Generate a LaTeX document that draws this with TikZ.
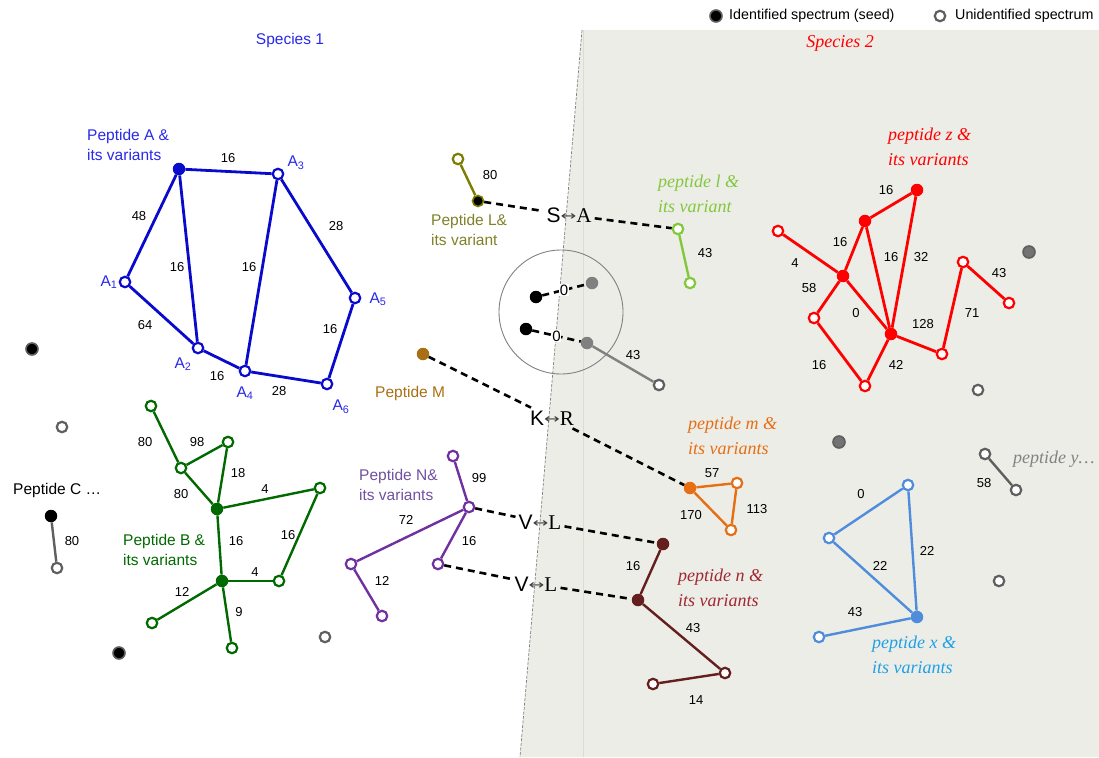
\documentclass[tikz,border=0pt]{standalone}
\usepackage{fontspec}
\setmainfont{Liberation Sans}
\newfontfamily\serifit{Liberation Serif}
\newfontfamily\dvsans{DejaVu Sans}
\newcommand{\lrarr}{{\dvsans\fontsize{13}{15}\selectfont\color{darkgray}\raisebox{2pt}{\scalebox{1.45}[1]{↔}}}}
\definecolor{bgc}{RGB}{237,237,232}
\definecolor{vline}{RGB}{220,220,214}
\definecolor{colA}{RGB}{10,10,205}
\definecolor{colAt}{RGB}{40,40,235}
\definecolor{colB}{RGB}{0,105,0}
\definecolor{colL}{RGB}{125,125,0}
\definecolor{colLt}{RGB}{128,128,40}
\definecolor{coll}{RGB}{130,200,60}
\definecolor{colM}{RGB}{170,110,20}
\definecolor{colm}{RGB}{230,110,20}
\definecolor{colN}{RGB}{112,48,160}
\definecolor{colNt}{RGB}{112,80,160}
\definecolor{coln}{RGB}{100,30,30}
\definecolor{colnt}{RGB}{160,40,50}
\definecolor{colz}{RGB}{255,0,0}
\definecolor{colx}{RGB}{80,140,220}
\definecolor{colxt}{RGB}{30,160,230}
\definecolor{colg}{RGB}{95,95,95}
\definecolor{colgf}{RGB}{115,115,115}
\definecolor{coly}{RGB}{130,130,130}
\begin{document}
\begin{tikzpicture}[x=1pt,y=-1pt,
  op/.style={circle,inner sep=0pt,minimum size=10.5pt,line width=2.2pt,fill=white},
  sd/.style={circle,inner sep=0pt,minimum size=12.5pt},
  ed/.style={line width=2.4pt},
  edb/.style={line width=2.8pt},
  lbl/.style={font=\fontsize{13}{15}\selectfont,inner sep=0pt},
  nm/.style={font=\fontsize{15.5}{19.5}\selectfont,align=left,anchor=west,inner sep=0pt},
  itx/.style={font=\fontsize{18}{25}\selectfont\serifit\itshape,align=left,anchor=west,inner sep=0pt},
  sub/.style={font=\fontsize{15.5}{18}\selectfont,text=colAt,inner sep=0pt},
  dsh/.style={line width=2.6pt,dash pattern=on 7pt off 5pt},
  swap/.style={inner sep=3pt,font=\fontsize{21}{23}\selectfont},
  zero/.style={fill=white,inner sep=0.5pt,font=\fontsize{15}{16}\selectfont}
]
\useasboundingbox (0,0) rectangle (1099,757);
% background of species 2
\fill[bgc] (582,30) -- (1099,30) -- (1099,757) -- (520,757) -- cycle;
\draw[vline,line width=0.8pt] (583,30) -- (583,757);
\draw[gray,line width=0.7pt,dash pattern=on 3pt off 1.5pt] (582,30) -- (520,757);

% legend
\node[sd,minimum size=12pt,fill=black,draw=colg,line width=1.6pt] (legs) at (716,16) {};
\node[anchor=west,inner sep=0pt,font=\fontsize{14.3}{16}\selectfont] (legst) at (729,16) {Identified spectrum (seed)};
\node[op,draw=colg] (lego) at (940,16) {};
\node[anchor=west,inner sep=0pt,font=\fontsize{14.3}{16}\selectfont] (legot) at (955,16) {Unidentified spectrum};

% titles
\node[font=\fontsize{15.5}{18}\selectfont,text=colAt] (sp1) at (290,40) {Species 1};
\node[font=\fontsize{18}{20}\selectfont\serifit\itshape,text=colz] (sp2) at (840,43) {Species 2};

% ---------------- Peptide A
\node[sd,fill=colA] (as) at (179,169) {};
\node[op,draw=colA] (a3) at (278,174) {};
\node[op,draw=colA] (a1) at (125,282) {};
\node[op,draw=colA] (a2) at (198,348) {};
\node[op,draw=colA] (a4) at (245,371) {};
\node[op,draw=colA] (a5) at (355,298) {};
\node[op,draw=colA] (a6) at (327,384) {};
\draw[edb,colA] (as) -- (a3); \draw[edb,colA] (as) -- (a1); \draw[edb,colA] (as) -- (a2);
\draw[edb,colA] (a3) -- (a4); \draw[edb,colA] (a3) -- (a5); \draw[edb,colA] (a1) -- (a2);
\draw[edb,colA] (a2) -- (a4); \draw[edb,colA] (a4) -- (a6); \draw[edb,colA] (a5) -- (a6);
\node[lbl] (la1) at (228,158) {16};
\node[lbl] (la2) at (139,216) {48};
\node[lbl] (la3) at (177,267) {16};
\node[lbl] (la4) at (249,267) {16};
\node[lbl] (la5) at (336,226) {28};
\node[lbl] (la6) at (145,325) {64};
\node[lbl] (la7) at (217,376) {16};
\node[lbl] (la8) at (279,391) {28};
\node[lbl] (la9) at (330,329) {16};
\node[sub] (ta1) at (109,282) {A\textsubscript{1}};
\node[sub] (ta2) at (183,364) {A\textsubscript{2}};
\node[sub] (ta3) at (296,163) {A\textsubscript{3}};
\node[sub] (ta4) at (245,393) {A\textsubscript{4}};
\node[sub] (ta5) at (378,299) {A\textsubscript{5}};
\node[sub] (ta6) at (341,407) {A\textsubscript{6}};
\node[nm,text=colAt] (tA) at (87,145) {Peptide A \&\\its variants};

% ---------------- Peptide B
\node[op,draw=colB] (b1) at (151,406) {};
\node[op,draw=colB] (b2) at (181,468) {};
\node[op,draw=colB] (b3) at (228,442) {};
\node[sd,fill=colB] (bs1) at (217,509) {};
\node[op,draw=colB] (b4) at (320,488) {};
\node[sd,fill=colB] (bs2) at (222,581) {};
\node[op,draw=colB] (b5) at (279,581) {};
\node[op,draw=colB] (b6) at (152,623) {};
\node[op,draw=colB] (b7) at (232,648) {};
\draw[ed,colB] (b1) -- (b2); \draw[ed,colB] (b2) -- (b3); \draw[ed,colB] (b2) -- (bs1);
\draw[ed,colB] (b3) -- (bs1); \draw[ed,colB] (bs1) -- (b4); \draw[ed,colB] (bs1) -- (bs2);
\draw[ed,colB] (b4) -- (b5); \draw[ed,colB] (bs2) -- (b5); \draw[ed,colB] (bs2) -- (b6);
\draw[ed,colB] (bs2) -- (b7);
\node[lbl] (lb1) at (145,442) {80};
\node[lbl] (lb2) at (197,442) {98};
\node[lbl] (lb3) at (238,473) {18};
\node[lbl] (lb4) at (181,494) {80};
\node[lbl] (lb5) at (265,489) {4};
\node[lbl] (lb6) at (236,541) {16};
\node[lbl] (lb7) at (288,535) {16};
\node[lbl] (lb8) at (255,572) {4};
\node[lbl] (lb9) at (182,592) {12};
\node[lbl] (lb10) at (239,612) {9};
\node[nm,text=colB] (tB) at (123,550) {Peptide B \&\\its variants};

% ---------------- Peptide C and lone spectra (species 1)
\node[sd,fill=black] (cs) at (51,516) {};
\node[op,draw=colg] (co) at (57,568) {};
\draw[ed,colg] (cs) -- (co);
\node[lbl] (lc) at (72,541) {80};
\node[nm] (tC) at (13,490) {Peptide C \dots};
\node[sd,minimum size=12pt,fill=black,draw=colg,line width=1.6pt] (g1) at (32,349) {};
\node[op,draw=colg] (g2) at (62,427) {};
\node[sd,minimum size=12pt,fill=black,draw=colg,line width=1.6pt] (g3) at (119,653) {};
\node[op,draw=colg] (g4) at (325,637) {};

% ---------------- Peptide L / l
\node[op,draw=colL] (lo) at (458,159) {};
\node[sd,fill=black,draw=colL,line width=1.6pt,minimum size=11pt] (ls) at (478,201) {};
\draw[ed,colL] (lo) -- (ls);
\node[lbl] (ll1) at (490,175) {80};
\node[nm,text=colLt] (tL) at (431,230) {Peptide L\&\\its variant};
\node[swap] (sa) at (569,215) {S\lrarr{\serifit A}};
\node[op,draw=coll] (l1) at (678,229) {};
\node[op,draw=coll] (l2) at (690,283) {};
\draw[ed,coll] (l1) -- (l2);
\node[lbl] (ll2) at (705,253) {43};
\node[itx,text=coll] (tl) at (658,194) {peptide l \&\\its variant};
\draw[dsh] (ls) -- (sa) -- (l1);

% ---------------- circle of identical spectra
\draw[gray,line width=0.9pt] (561,312) circle[radius=62];
\node[sd,fill=black] (k1) at (536,297) {};
\node[sd,fill=gray] (k2) at (592,283) {};
\node[sd,fill=black] (k3) at (526,329) {};
\node[sd,fill=gray] (k4) at (587,343) {};
\node[op,draw=colg] (k5) at (659,385) {};
\draw[dsh] (k1) -- node[zero] (z1l) {0} (k2);
\draw[dsh] (k3) -- node[zero] (z2l) {0} (k4);
\draw[ed,gray] (k4) -- (k5);
\node[lbl] (lk) at (633,355) {43};

% ---------------- Peptide M / m
\node[sd,fill=colM] (ms) at (423,354) {};
\node[font=\fontsize{15.5}{18}\selectfont,text=colM,anchor=west,inner sep=0pt] (tM) at (375,393) {Peptide M};
\node[swap] (kr) at (552,418) {K\lrarr{\serifit R}};
\node[sd,fill=colm] (m0) at (690,488) {};
\node[op,draw=colm] (m1) at (737,483) {};
\node[op,draw=colm] (m2) at (731,530) {};
\draw[ed,colm] (m0) -- (m1); \draw[ed,colm] (m0) -- (m2); \draw[ed,colm] (m1) -- (m2);
\node[lbl] (lm1) at (712,473) {57};
\node[lbl] (lm2) at (691,515) {170};
\node[lbl] (lm3) at (757,509) {113};
\node[itx,text=colm] (tm) at (688,436) {peptide m \&\\its variants};
\draw[dsh] (ms) -- (kr) -- (m0);

% ---------------- Peptide N / n
\node[op,draw=colN] (n1) at (453,456) {};
\node[op,draw=colN] (n2) at (469,507) {};
\node[op,draw=colN] (n3) at (351,564) {};
\node[op,draw=colN] (n4) at (382,616) {};
\node[op,draw=colN] (n5) at (438,564) {};
\draw[ed,colN] (n1) -- (n2); \draw[ed,colN] (n2) -- (n3); \draw[ed,colN] (n2) -- (n5);
\draw[ed,colN] (n3) -- (n4);
\node[lbl] (ln1) at (479,478) {99};
\node[lbl] (ln2) at (406,520) {72};
\node[lbl] (ln3) at (469,541) {16};
\node[lbl] (ln4) at (382,581) {12};
\node[nm,text=colNt] (tN) at (359,485) {Peptide N\&\\its variants};
\node[sd,fill=coln] (p1) at (663,544) {};
\node[sd,fill=coln] (p2) at (638,600) {};
\node[op,draw=coln] (p3) at (725,673) {};
\node[op,draw=coln] (p4) at (653,684) {};
\draw[ed,coln] (p1) -- (p2); \draw[ed,coln] (p2) -- (p3); \draw[ed,coln] (p3) -- (p4);
\node[lbl] (lp1) at (633,566) {16};
\node[lbl] (lp2) at (693,628) {43};
\node[lbl] (lp3) at (696,700) {14};
\node[itx,text=colnt] (tn) at (678,588) {peptide n \&\\its variants};
\node[swap] (vl1) at (540,522) {V\lrarr{\serifit L}};
\node[swap] (vl2) at (536,584) {V\lrarr{\serifit L}};
\draw[dsh] (n2) -- (vl1) -- (p1);
\draw[dsh] (n5) -- (vl2) -- (p2);

% ---------------- peptide z
\node[sd,fill=colz] (zs1) at (917,190) {};
\node[sd,fill=colz] (zs2) at (865,221) {};
\node[sd,fill=colz] (zs3) at (843,276) {};
\node[sd,fill=colz] (zs4) at (891,334) {};
\node[op,draw=colz] (zo1) at (778,231) {};
\node[op,draw=colz] (zo2) at (814,318) {};
\node[op,draw=colz] (zo3) at (865,386) {};
\node[op,draw=colz] (zo4) at (942,354) {};
\node[op,draw=colz] (zo5) at (963,262) {};
\node[op,draw=colz] (zo6) at (1009,303) {};
\draw[edb,colz] (zs1) -- (zs2); \draw[edb,colz] (zs2) -- (zs3); \draw[edb,colz] (zs2) -- (zs4);
\draw[edb,colz] (zs1) -- (zs4); \draw[edb,colz] (zo1) -- (zs3); \draw[edb,colz] (zs3) -- (zo2);
\draw[edb,colz] (zs3) -- (zs4); \draw[edb,colz] (zo2) -- (zo3); \draw[edb,colz] (zo3) -- (zs4);
\draw[edb,colz] (zs4) -- (zo4); \draw[edb,colz] (zo4) -- (zo5); \draw[edb,colz] (zo5) -- (zo6);
\node[lbl] (lz1) at (886,190) {16};
\node[lbl] (lz2) at (840,242) {16};
\node[lbl] (lz3) at (891,257) {16};
\node[lbl] (lz4) at (921,257) {32};
\node[lbl] (lz5) at (795,263) {4};
\node[lbl] (lz6) at (809,288) {58};
\node[lbl] (lz7) at (856,313) {0};
\node[lbl] (lz8) at (819,365) {16};
\node[lbl] (lz9) at (896,365) {42};
\node[lbl] (lz10) at (923,324) {128};
\node[lbl] (lz11) at (972,313) {71};
\node[lbl] (lz12) at (999,273) {43};
\node[itx,text=colz] (tz) at (888,147) {peptide z \&\\its variants};

% ---------------- peptide x
\node[op,draw=colx] (x1) at (908,485) {};
\node[op,draw=colx] (x2) at (829,538) {};
\node[sd,fill=colx] (xs) at (917,617) {};
\node[op,draw=colx] (x3) at (819,637) {};
\draw[ed,colx] (x1) -- (x2); \draw[ed,colx] (x1) -- (xs); \draw[ed,colx] (x2) -- (xs);
\draw[ed,colx] (xs) -- (x3);
\node[lbl] (lx1) at (861,494) {0};
\node[lbl] (lx2) at (927,551) {22};
\node[lbl] (lx3) at (880,566) {22};
\node[lbl] (lx4) at (855,612) {43};
\node[itx,text=colxt] (tx) at (872,655) {peptide x \&\\its variants};

% ---------------- peptide y and lone spectra (species 2)
\node[op,draw=colg] (y1) at (985,454) {};
\node[op,draw=colg] (y2) at (1016,490) {};
\draw[ed,colg] (y1) -- (y2);
\node[lbl] (ly) at (984,483) {58};
\node[itx,text=coly] (ty) at (1013,459) {peptide y\dots};
\node[sd,minimum size=12pt,fill=colgf,draw=colg,line width=1.6pt] (h1) at (1029,252) {};
\node[op,draw=colg] (h2) at (978,390) {};
\node[sd,minimum size=12pt,fill=colgf,draw=colg,line width=1.6pt] (h3) at (839,442) {};
\node[op,draw=colg] (h4) at (999,581) {};
\end{tikzpicture}
\end{document}
